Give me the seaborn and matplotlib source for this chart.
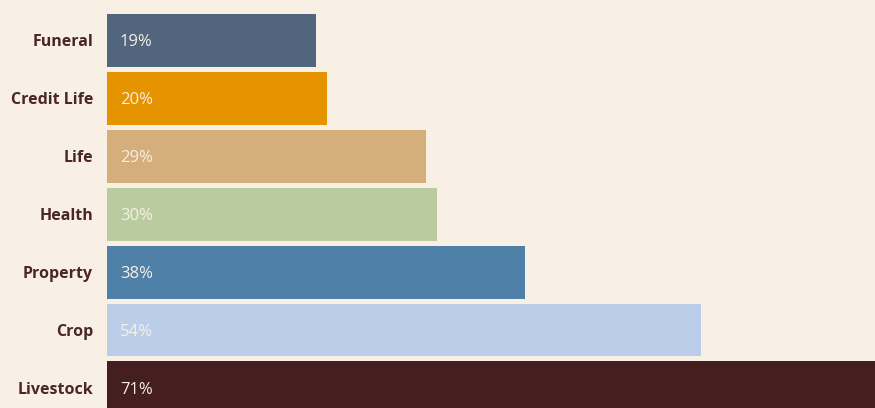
import matplotlib
matplotlib.use("Agg")
import matplotlib.pyplot as plt
import seaborn as sns
import pandas as pd

# ── Data ──────────────────────────────────────────────────────────
categories = ["Funeral", "Credit Life", "Life", "Health", "Property", "Crop", "Livestock"]
shares = [19, 20, 29, 30, 38, 54, 71]
colors = ["#51657e", "#e69300", "#d4ae7b", "#bacb9f", "#4e80a8", "#bccdea", "#451f1f"]

BG = "#f8f0e4"
LABEL = "#4a2626"

sns.set_theme(style="white")
plt.rcParams["font.family"] = ["Open Sans", "DejaVu Sans"]

df = pd.DataFrame({"category": categories, "share": shares})

fig = plt.figure(figsize=(8.75, 4.08), dpi=100)
fig.patch.set_facecolor(BG)
ax = fig.add_axes([107 / 875, 0, 768 / 875, 1])
ax.set_facecolor(BG)

sns.barplot(data=df, y="category", x="share", hue="category", palette=colors,
            order=categories, orient="h", width=0.915, legend=False,
            saturation=1, linewidth=0, ax=ax)

ax.set_xlim(0, 69.8)
ax.set_ylim(6.347, -0.699)

# value labels inside the bars
for i, v in enumerate(shares):
    ax.annotate(f"{v}%", xy=(0, i), xytext=(13, -2), textcoords="offset pixels",
                va="center", ha="left", color="#f7efe4", fontsize=12)

ax.set_xlabel("")
ax.set_ylabel("")
ax.set_xticks([])
ax.tick_params(axis="y", length=0, pad=10)
for lbl in ax.get_yticklabels():
    lbl.set_fontweight("bold")
    lbl.set_color(LABEL)
    lbl.set_fontsize(11.5)
sns.despine(ax=ax, left=True, bottom=True)

fig.savefig("out.png", dpi=100, facecolor=BG)
